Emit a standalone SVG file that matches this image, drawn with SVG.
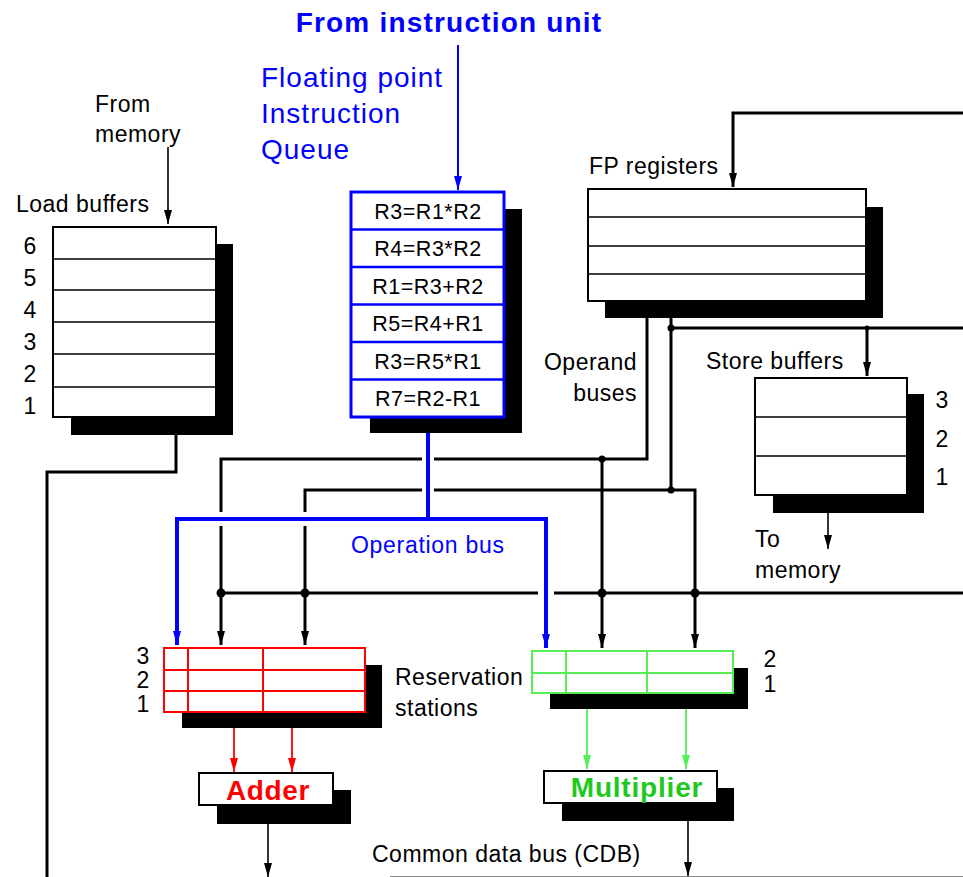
<svg xmlns="http://www.w3.org/2000/svg" width="963" height="877" viewBox="0 0 963 877">
<style>
text{font-family:"Liberation Sans",Arial,sans-serif;fill:#000}
.lbl{font-size:23px;letter-spacing:0.5px}
.num{font-size:23px}
.q{font-size:21.5px;letter-spacing:0.5px;text-anchor:middle}
.blue{fill:#0000ff}
.bus{fill:none;stroke:#000;stroke-width:3}
.thin{fill:none;stroke:#000;stroke-width:1.6}
.bbus{fill:none;stroke:#0000ff;stroke-width:4}
.shadow{fill:#000}
.box{fill:#fff;stroke:#000;stroke-width:2}
.row{stroke:#000;stroke-width:1.6}
.dot{fill:#000}
</style>
<defs>
<marker id="ah" viewBox="0 0 14 8" refX="14" refY="4" markerWidth="14" markerHeight="8" markerUnits="userSpaceOnUse" orient="auto"><path d="M0,0 L14,4 L0,8 z" fill="#000"/></marker>
<marker id="ahb" viewBox="0 0 14 8" refX="14" refY="4" markerWidth="14" markerHeight="9" markerUnits="userSpaceOnUse" orient="auto"><path d="M0,0 L14,4 L0,8 z" fill="#0000ff"/></marker>
<marker id="ahr" viewBox="0 0 14 8" refX="14" refY="4" markerWidth="14" markerHeight="8" markerUnits="userSpaceOnUse" orient="auto"><path d="M0,0 L14,4 L0,8 z" fill="#ff0000"/></marker>
<marker id="ahg" viewBox="0 0 14 8" refX="14" refY="4" markerWidth="14" markerHeight="8" markerUnits="userSpaceOnUse" orient="auto"><path d="M0,0 L14,4 L0,8 z" fill="#55ee55"/></marker>
</defs>
<rect width="963" height="877" fill="#fff"/>

<g id="connectors">
  <path class="thin" d="M168,147 V224" marker-end="url(#ah)"/>
  <path d="M458,45 V190" fill="none" stroke="#0000ff" stroke-width="2" marker-end="url(#ahb)"/>
  <path class="bus" d="M963,113 H733 V187" marker-end="url(#ah)"/>
  <path class="bus" d="M176,435 V472 H47 V877"/>
  <path class="bus" d="M647,318 V459 H434"/>
  <path class="bus" d="M422,459 H221 V512"/>
  <path class="bus" d="M221,526 V645" marker-end="url(#ah)"/>
  <path class="bus" d="M602,459 V648" marker-end="url(#ah)"/>
  <path class="bus" d="M671,318 V490 H695 V648" marker-end="url(#ah)"/>
  <path class="bus" d="M671,490 H434"/>
  <path class="bus" d="M422,490 H305 V512"/>
  <path class="bus" d="M305,526 V645" marker-end="url(#ah)"/>
  <path class="bus" d="M671,328 H963"/>
  <path class="bus" d="M867,328 V376" marker-end="url(#ah)"/>
  <path class="bus" d="M221,593 H538"/>
  <path class="bus" d="M554,593 H963"/>
  <path class="thin" d="M828,513 V549" marker-end="url(#ah)"/>
  <path class="bbus" d="M428,417 V519"/>
  <path class="bbus" d="M177,645 V519 H546 V648" marker-end="url(#ahb)"/>
  <path d="M177,600 V645" fill="none" stroke="#0000ff" stroke-width="4" marker-end="url(#ahb)"/>
  <path d="M234,728 V772" fill="none" stroke="#ff0000" stroke-width="1.8" marker-end="url(#ahr)"/>
  <path d="M292,728 V772" fill="none" stroke="#ff0000" stroke-width="1.8" marker-end="url(#ahr)"/>
  <path d="M587,709 V769" fill="none" stroke="#55ee55" stroke-width="1.8" marker-end="url(#ahg)"/>
  <path d="M686,709 V769" fill="none" stroke="#55ee55" stroke-width="1.8" marker-end="url(#ahg)"/>
  <path class="thin" d="M268,824 V877" marker-end="url(#ah)"/>
  <path class="thin" d="M688,821 V876" marker-end="url(#ah)"/>
  <path d="M390,876.5 H963" fill="none" stroke="#888" stroke-width="1"/>
  <circle class="dot" cx="221" cy="593" r="4.5"/>
  <circle class="dot" cx="305" cy="593" r="4.5"/>
  <circle class="dot" cx="602" cy="593" r="4.5"/>
  <circle class="dot" cx="695" cy="593" r="4.5"/>
  <circle class="dot" cx="602" cy="459" r="3.5"/>
  <circle class="dot" cx="671" cy="490" r="3.5"/>
  <circle class="dot" cx="671" cy="328" r="3.5"/>
  <circle class="dot" cx="867" cy="328" r="2.5"/>
</g>

<g id="title">
  <text x="449" y="32" style="font-size:28px;font-weight:bold;letter-spacing:1.2px" class="blue" text-anchor="middle">From instruction unit</text>
</g>

<g id="from-memory">
  <text class="lbl" x="95" y="112">From</text>
  <text class="lbl" x="95" y="142">memory</text>
</g>

<g id="load-buffers">
  <text class="lbl" x="16" y="212">Load buffers</text>
  <rect class="shadow" x="71" y="244" width="162" height="191"/>
  <rect class="box" x="53" y="227" width="163" height="190"/>
  <line class="row" x1="53" y1="259" x2="216" y2="259"/>
  <line class="row" x1="53" y1="290" x2="216" y2="290"/>
  <line class="row" x1="53" y1="322" x2="216" y2="322"/>
  <line class="row" x1="53" y1="354" x2="216" y2="354"/>
  <line class="row" x1="53" y1="387" x2="216" y2="387"/>
  <text class="num" x="30" y="254" text-anchor="middle">6</text>
  <text class="num" x="30" y="286" text-anchor="middle">5</text>
  <text class="num" x="30" y="318" text-anchor="middle">4</text>
  <text class="num" x="30" y="350" text-anchor="middle">3</text>
  <text class="num" x="30" y="382" text-anchor="middle">2</text>
  <text class="num" x="30" y="414" text-anchor="middle">1</text>
</g>

<g id="instruction-queue">
  <text x="261" y="87" class="blue" style="font-size:28px;letter-spacing:1px">Floating point</text>
  <text x="261" y="123" class="blue" style="font-size:28px;letter-spacing:1px">Instruction</text>
  <text x="261" y="159" class="blue" style="font-size:28px;letter-spacing:1px">Queue</text>
  <rect class="shadow" x="370" y="209" width="152" height="224"/>
  <rect x="351" y="192" width="153" height="225" fill="#fff" stroke="#0000ff" stroke-width="3"/>
  <g stroke="#0000ff" stroke-width="2.5">
    <line x1="351" y1="229.5" x2="504" y2="229.5"/>
    <line x1="351" y1="267" x2="504" y2="267"/>
    <line x1="351" y1="304.5" x2="504" y2="304.5"/>
    <line x1="351" y1="342" x2="504" y2="342"/>
    <line x1="351" y1="379.5" x2="504" y2="379.5"/>
  </g>
  <text class="q" x="428" y="219">R3=R1*R2</text>
  <text class="q" x="428" y="256">R4=R3*R2</text>
  <text class="q" x="428" y="294">R1=R3+R2</text>
  <text class="q" x="428" y="331">R5=R4+R1</text>
  <text class="q" x="428" y="369">R3=R5*R1</text>
  <text class="q" x="428" y="406">R7=R2-R1</text>
</g>

<g id="fp-registers">
  <text class="lbl" x="589" y="174">FP registers</text>
  <rect class="shadow" x="605" y="207" width="278" height="111"/>
  <rect class="box" x="588" y="189" width="278" height="112"/>
  <line class="row" x1="588" y1="217" x2="866" y2="217"/>
  <line class="row" x1="588" y1="246" x2="866" y2="246"/>
  <line class="row" x1="588" y1="274" x2="866" y2="274"/>
</g>

<g id="operand-buses-label">
  <text class="lbl" x="637" y="370" text-anchor="end">Operand</text>
  <text class="lbl" x="637" y="401" text-anchor="end">buses</text>
</g>

<g id="store-buffers">
  <text class="lbl" x="706" y="369">Store buffers</text>
  <rect class="shadow" x="773" y="394" width="151" height="119"/>
  <rect class="box" x="755" y="378" width="152" height="117"/>
  <line class="row" x1="755" y1="417" x2="907" y2="417"/>
  <line class="row" x1="755" y1="456" x2="907" y2="456"/>
  <text class="num" x="942" y="408" text-anchor="middle">3</text>
  <text class="num" x="942" y="447" text-anchor="middle">2</text>
  <text class="num" x="942" y="485" text-anchor="middle">1</text>
  <text class="lbl" x="755" y="547">To</text>
  <text class="lbl" x="755" y="578">memory</text>
</g>

<g id="operation-bus-label">
  <text x="351" y="553" class="blue" style="font-size:23px;letter-spacing:0.7px">Operation bus</text>
</g>

<g id="adder-rs">
  <rect class="shadow" x="182" y="665" width="200" height="63"/>
  <rect x="164" y="648" width="201" height="64" fill="#fff" stroke="#ff0000" stroke-width="2"/>
  <g stroke="#ff0000" stroke-width="2">
    <line x1="164" y1="670" x2="365" y2="670"/>
    <line x1="164" y1="691" x2="365" y2="691"/>
    <line x1="188" y1="648" x2="188" y2="712"/>
    <line x1="263" y1="648" x2="263" y2="712"/>
  </g>
  <text class="num" x="143" y="664" text-anchor="middle">3</text>
  <text class="num" x="143" y="688" text-anchor="middle">2</text>
  <text class="num" x="143" y="712" text-anchor="middle">1</text>
</g>

<g id="rs-label">
  <text class="lbl" x="395" y="685">Reservation</text>
  <text class="lbl" x="395" y="716">stations</text>
</g>

<g id="multiplier-rs">
  <rect class="shadow" x="550" y="668" width="198" height="41"/>
  <rect x="532" y="651" width="201" height="42" fill="#fff" stroke="#55ee55" stroke-width="2"/>
  <g stroke="#55ee55" stroke-width="2">
    <line x1="532" y1="673" x2="733" y2="673"/>
    <line x1="566" y1="651" x2="566" y2="693"/>
    <line x1="647" y1="651" x2="647" y2="693"/>
  </g>
  <text class="num" x="770" y="667" text-anchor="middle">2</text>
  <text class="num" x="770" y="692" text-anchor="middle">1</text>
</g>

<g id="adder">
  <rect class="shadow" x="217" y="790" width="134" height="34"/>
  <rect class="box" x="199" y="773" width="134" height="32"/>
  <text x="268" y="800" text-anchor="middle" style="font-size:28px;font-weight:bold;letter-spacing:0.6px;fill:#ff0000">Adder</text>
</g>

<g id="multiplier">
  <rect class="shadow" x="562" y="788" width="172" height="33"/>
  <rect class="box" x="544" y="771" width="173" height="32"/>
  <text x="637" y="797" text-anchor="middle" style="font-size:28px;font-weight:bold;letter-spacing:0.8px;fill:#1ec81e">Multiplier</text>
</g>

<g id="cdb-label">
  <text class="lbl" x="372" y="862">Common data bus (CDB)</text>
</g>
</svg>
